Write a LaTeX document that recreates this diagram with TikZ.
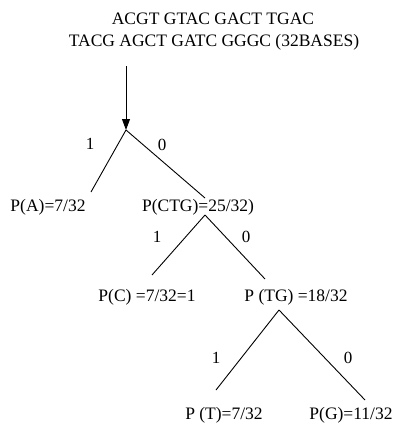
\documentclass[tikz,border=0pt]{standalone}
\usepackage{fontspec}
\setmainfont{Liberation Serif}
\usetikzlibrary{arrows.meta}
\begin{document}
\begin{tikzpicture}[x=1pt,y=-1pt,
  lbl/.style={font=\fontsize{17.5}{20}\selectfont, inner sep=0pt, text=black},
  bit/.style={font=\fontsize{17}{20}\selectfont, inner sep=0pt},
  edge/.style={line width=0.9pt, black}]
\useasboundingbox (0,0) rectangle (395,429);
\node[lbl] (t1) at (213,19) {ACGT GTAC GACT TGAC};
\node[lbl] (t2) at (214,42) {TACG AGCT GATC GGGC (32BASES)};
\coordinate (as) at (126,66);
\coordinate (r) at (126,130);
\draw[edge, -{Triangle[length=11pt,width=8pt]}] (as) -- (r);
% level 1
\node[lbl] (pA) at (48,207) {P(A)=7/32};
\node[lbl] (pCTG) at (198,207) {P(CTG)=25/32)};
\coordinate (aEnd) at (91,192);
\coordinate (ctgEnd) at (205,198);
\draw[edge] (r) -- (aEnd);
\draw[edge] (r) -- (ctgEnd);
\node[bit] (b1) at (90,144) {1};
\node[bit] (b0) at (162,145) {0};
% level 2
\coordinate (c2) at (205,215);
\node[lbl] (pC) at (147,297) {P(C) =7/32=1};
\node[lbl] (pTG) at (296,297) {P (TG) =18/32};
\coordinate (cEnd) at (152,275);
\coordinate (tgEnd) at (265,279);
\draw[edge] (c2) -- (cEnd);
\draw[edge] (c2) -- (tgEnd);
\node[bit] (b2) at (157,237) {1};
\node[bit] (b3) at (246,237) {0};
% level 3
\coordinate (c3) at (279,310);
\node[lbl] (pT) at (224,415) {P (T)=7/32};
\node[lbl] (pG) at (351,415) {P(G)=11/32};
\coordinate (tEnd) at (216,390);
\coordinate (gEnd) at (365,400);
\draw[edge] (c3) -- (tEnd);
\draw[edge] (c3) -- (gEnd);
\node[bit] (b4) at (216,358) {1};
\node[bit] (b5) at (348,358) {0};
\end{tikzpicture}
\end{document}
